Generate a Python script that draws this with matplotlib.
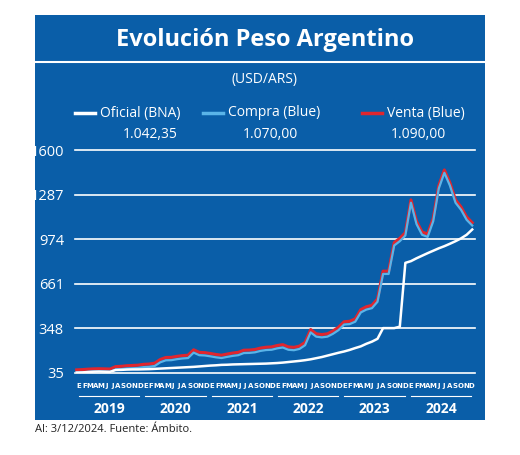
import matplotlib
matplotlib.use("Agg")
import matplotlib.pyplot as plt
from matplotlib.patches import Rectangle
from matplotlib.lines import Line2D

years = ["2019", "2020", "2021", "2022", "2023", "2024"]
month_letters = list("EFMAMJJASOND")
yticks = [35, 348, 661, 974, 1287, 1600]
oficial = [38, 39, 42, 44, 45, 44, 43, 56, 57, 59, 60, 60,
           61, 62, 64, 66, 68, 70, 72, 74, 76, 78, 81, 84,
           87, 89, 92, 93, 95, 96, 97, 98, 99, 100, 101, 103,
           105, 108, 112, 116, 120, 125, 131, 139, 147, 157, 167, 177,
           186, 197, 210, 222, 240, 255, 275, 350, 350, 350, 360, 808,
           820, 840, 858, 876, 893, 910, 925, 942, 960, 980, 1005, 1042]
compra = [37, 39, 42, 44, 45, 44, 43, 60, 62, 66, 68, 70,
          76, 78, 84, 110, 124, 125, 132, 137, 140, 178, 160, 158,
          152, 145, 140, 148, 155, 160, 175, 176, 180, 190, 196, 198,
          208, 214, 198, 195, 204, 230, 320, 290, 285, 290, 310, 336,
          375, 378, 395, 460, 480, 490, 535, 730, 730, 930, 960, 1000,
          1230, 1080, 1005, 990, 1100, 1330, 1440, 1350, 1230, 1180, 1110, 1070]
venta = [v + 20 for v in compra]

BLUE = "#0a5ea8"
fig = plt.figure(figsize=(5.2, 4.55), dpi=100)
fig.patch.set_facecolor("white")
W, H = 520, 455
def fx(x): return x / W
def fy(y): return 1 - y / H

fig.patches.append(Rectangle((fx(35), fy(420)), fx(450), 405 / H, transform=fig.transFigure,
                             facecolor=BLUE, edgecolor="none", zorder=-5))
fig.add_artist(Line2D([fx(35), fx(485)], [fy(62), fy(62)], color="white", lw=1.5))
fig.text(fx(265), fy(40), "Evolución Peso Argentino", color="white", fontsize=17,
         fontweight="bold", ha="center", va="center", family="Open Sans")
fig.text(fx(265), fy(80), "(USD/ARS)", color="white", fontsize=10, ha="center", va="center",
         family="Open Sans")

leg = [("Oficial (BNA)", "white", 75, "1.042,35", 150),
       ("Compra (Blue)", "#5ab4e8", 203, "1.070,00", 270),
       ("Venta (Blue)", "#e0262e", 362, "1.090,00", 418)]
for lab, col, x0, val, vx in leg:
    fig.add_artist(Line2D([fx(x0), fx(x0 + 20)], [fy(113), fy(113)], color=col, lw=2.5))
    fig.text(fx(x0 + 25), fy(113), lab, color="white", fontsize=10, va="center", family="Open Sans")
    fig.text(fx(vx), fy(135), val, color="white", fontsize=10, va="center", ha="center",
             family="Open Sans")

ax = fig.add_axes([fx(75), fy(373), fx(400), 223 / H], zorder=2)
ax.patch.set_visible(False)
x = list(range(len(oficial)))
ax.plot(x, venta, color="#e0262e", lw=2.2, zorder=3)
ax.plot(x, compra, color="#5ab4e8", lw=1.6, zorder=4)
ax.plot(x, oficial, color="white", lw=1.8, zorder=5)
ax.set_xlim(-0.3, 71.5)
ax.set_ylim(35, 1600)
ax.set_yticks(yticks)
ax.set_yticklabels([str(t) for t in yticks], color="white", fontsize=10.5, family="Open Sans")
ax.tick_params(axis="y", length=0, pad=8)
ax.set_xticks([])
for t in yticks:
    ax.axhline(t, color="white", lw=1.2, zorder=1, clip_on=False)
for s in ax.spines.values():
    s.set_visible(False)

for yi, yr in enumerate(years):
    for mi, m in enumerate(month_letters):
        xi = yi * 12 + mi
        xp = 77 + xi * 5.53 + 2
        fig.text(fx(xp), fy(386), m, color="white", fontsize=5, ha="center", va="center",
                 family="DejaVu Sans", fontweight="bold")
    x0 = 77 + yi * 12 * 5.53 + 2
    x1 = x0 + 12 * 5.53 - 6
    fig.add_artist(Line2D([fx(x0), fx(x1)], [fy(396), fy(396)], color="white", lw=0.8))
    fig.text(fx((x0 + x1) / 2), fy(409), yr, color="white", fontsize=10, fontweight="bold",
             ha="center", va="center", family="Open Sans")

fig.text(fx(35), fy(430), "Al: 3/12/2024. Fuente: Ámbito.", color="#222222", fontsize=8,
         va="center", family="Open Sans")
fig.savefig("out.png", dpi=100)
